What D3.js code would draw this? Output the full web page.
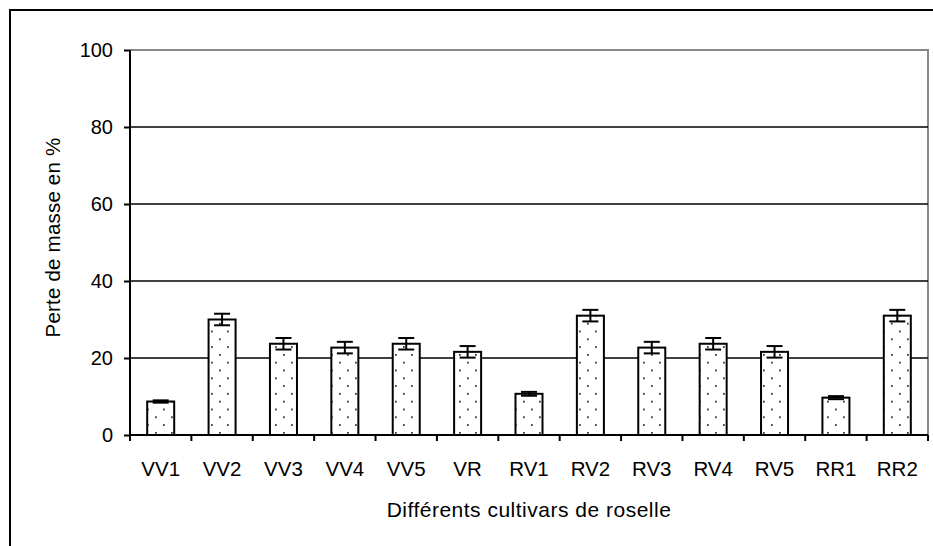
<!DOCTYPE html>
<html>
<head>
<meta charset="utf-8">
<script src="https://cdn.jsdelivr.net/npm/d3@7"></script>
<style>
  html, body { margin: 0; padding: 0; background: #fff; }
  svg { display: block; }
  text { font-family: "Liberation Sans", Arial, sans-serif; fill: #000; }
</style>
</head>
<body>
<svg id="chart" width="933" height="546"></svg>
<script>
const categories = ["VV1","VV2","VV3","VV4","VV5","VR","RV1","RV2","RV3","RV4","RV5","RR1","RR2"];
const values     = [8.7, 30.0, 23.7, 22.7, 23.7, 21.6, 10.7, 31.0, 22.7, 23.7, 21.6, 9.7, 31.0];
const errors     = [0.3, 1.5, 1.5, 1.5, 1.5, 1.5, 0.5, 1.5, 1.5, 1.5, 1.5, 0.4, 1.5];
const yTicks     = [0, 20, 40, 60, 80, 100];
const yTitle = "Perte de masse en %";
const xTitle = "Différents cultivars de roselle";

const svg = d3.select("#chart");
const L = 130, R = 928, T = 50, B = 435;

const defs = svg.append("defs");
const pat = defs.append("pattern").attr("id", "dots").attr("patternUnits", "userSpaceOnUse")
  .attr("width", 16).attr("height", 15.6);
pat.append("rect").attr("width", 16).attr("height", 15.6).attr("fill", "#fff");
pat.append("rect").attr("x", 3).attr("y", 3).attr("width", 1.7).attr("height", 1.7).attr("fill", "#222");
pat.append("rect").attr("x", 11).attr("y", 10.8).attr("width", 1.7).attr("height", 1.7).attr("fill", "#222");

// outer frame
svg.append("rect").attr("x", 10).attr("y", 10).attr("width", 960).attr("height", 600)
  .attr("fill", "none").attr("stroke", "#000").attr("stroke-width", 2);

const x = d3.scaleBand().domain(categories).range([L, R]).paddingInner(0.56).paddingOuter(0.28);
const y = d3.scaleLinear().domain([0, 100]).range([B, T]);

// plot area border (gray)
svg.append("path")
  .attr("d", `M${L},${y(100)}H${R}V${B}`)
  .attr("fill", "none").attr("stroke", "#888").attr("stroke-width", 2);

// gridlines
svg.append("g").selectAll("line").data(yTicks.filter(t => t > 0 && t < 100)).join("line")
  .attr("x1", L).attr("x2", R).attr("y1", d => y(d)).attr("y2", d => y(d))
  .attr("stroke", "#000").attr("stroke-width", 1.6);

// y axis
const yAxis = d3.axisLeft(y).tickValues(yTicks).tickSize(6).tickPadding(11).tickFormat(d3.format("d"));
const gy = svg.append("g").attr("transform", `translate(${L},0)`).call(yAxis);
gy.select(".domain").attr("stroke", "#000").attr("stroke-width", 2).attr("d", `M0,${y(100)}V${B}`);
gy.selectAll(".tick line").attr("stroke", "#000").attr("stroke-width", 2);
gy.selectAll(".tick text").attr("font-size", 20).attr("font-family", "Liberation Sans, Arial, sans-serif").attr("fill", "#000");

// bars
const step = x.step();
const bars = svg.append("g");
bars.selectAll("rect").data(categories).join("rect")
  .attr("x", d => x(d)).attr("width", x.bandwidth())
  .attr("y", (d, i) => y(values[i])).attr("height", (d, i) => B - y(values[i]))
  .attr("fill", "url(#dots)").attr("stroke", "#000").attr("stroke-width", 2);

// error bars
const eb = svg.append("g").attr("stroke", "#000").attr("stroke-width", 2);
categories.forEach((c, i) => {
  const cx = x(c) + x.bandwidth() / 2;
  const hi = y(values[i] + errors[i]), lo = y(values[i] - errors[i]);
  eb.append("line").attr("x1", cx).attr("x2", cx).attr("y1", hi).attr("y2", lo);
  eb.append("line").attr("x1", cx - 8).attr("x2", cx + 8).attr("y1", hi).attr("y2", hi);
  eb.append("line").attr("x1", cx - 8).attr("x2", cx + 8).attr("y1", lo).attr("y2", lo);
});

// x axis line and boundary ticks
svg.append("line").attr("x1", L).attr("x2", R).attr("y1", B).attr("y2", B)
  .attr("stroke", "#000").attr("stroke-width", 2);
const bounds = categories.map(c => x(c) - step * x.paddingInner() / 2).concat([R]);
svg.append("g").selectAll("line").data(bounds).join("line")
  .attr("x1", d => d).attr("x2", d => d).attr("y1", B).attr("y2", B + 6)
  .attr("stroke", "#000").attr("stroke-width", 2);

// x labels
svg.append("g").selectAll("text").data(categories).join("text")
  .attr("x", d => x(d) + x.bandwidth() / 2).attr("y", 476)
  .attr("text-anchor", "middle").attr("font-size", 20.5).text(d => d);

// titles
svg.append("text").attr("x", (L + R) / 2).attr("y", 517).attr("text-anchor", "middle")
  .attr("font-size", 21).attr("letter-spacing", 0.5).text(xTitle);
svg.append("text").attr("transform", `translate(60,${(T + B) / 2 - 5}) rotate(-90)`)
  .attr("text-anchor", "middle").attr("font-size", 20.5).attr("letter-spacing", 0.2).text(yTitle);
</script>
</body>
</html>
